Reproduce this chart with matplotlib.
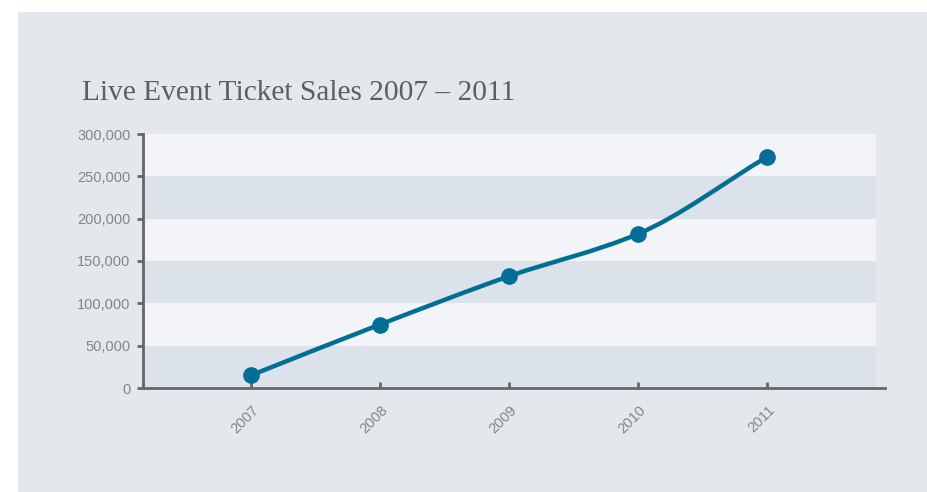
import numpy as np
import matplotlib
matplotlib.use('Agg')
from matplotlib import pyplot as plt
from matplotlib.patches import Rectangle, PathPatch
from matplotlib.path import Path
from matplotlib.ticker import FuncFormatter
import matplotlib.transforms as mtransforms

years = [2007, 2008, 2009, 2010, 2011]
tickets = [15000, 75000, 132000, 182000, 273000]
y_ticks = [0, 50000, 100000, 150000, 200000, 250000, 300000]

line_color = '#006e95'
axis_color = '#666666'
label_color = '#858585'

fig = plt.figure(figsize=(9.27, 4.92), dpi=100, facecolor='white')
fig.patches.append(Rectangle((18 / 927, 0), 1 - 18 / 927, 1 - 12 / 492,
                             transform=fig.transFigure, facecolor='#e4e7ec',
                             edgecolor='none', zorder=-10))

ax = fig.add_axes([143 / 927, 104 / 492, 742 / 927, 254 / 492])
ax.set_facecolor('none')
ax.set_xlim(2007 - 108 / 129, 2011 + 118 / 129)
ax.set_ylim(0, 300000)

# alternating bands
band_end = (876 - 143) / (885 - 143)
for i, lo in enumerate(y_ticks[:-1]):
    color = '#dbe2ea' if i % 2 == 0 else '#f2f4f8'
    ax.axhspan(lo, y_ticks[i + 1], xmin=0, xmax=band_end, color=color,
               lw=0, zorder=0)

# smooth monotone curve through the points
x = np.array(years, dtype=float)
y = np.array(tickets, dtype=float)
h = np.diff(x)
d = np.diff(y) / h
m = np.zeros_like(y)
m[0], m[-1] = d[0], d[-1]
for i in range(1, len(y) - 1):
    if d[i - 1] * d[i] > 0:
        m[i] = 2 / (1 / d[i - 1] + 1 / d[i])
verts = [(x[0], y[0])]
codes = [Path.MOVETO]
for i in range(len(x) - 1):
    verts += [(x[i] + h[i] / 3, y[i] + m[i] * h[i] / 3),
              (x[i + 1] - h[i] / 3, y[i + 1] - m[i + 1] * h[i] / 3),
              (x[i + 1], y[i + 1])]
    codes += [Path.CURVE4] * 3
ax.add_patch(PathPatch(Path(verts, codes), facecolor='none',
                       edgecolor=line_color, lw=3.2, capstyle='round',
                       zorder=3))
ax.plot(years, tickets, 'o', color=line_color, markersize=11, zorder=4)

for side in ['top', 'right']:
    ax.spines[side].set_visible(False)
for side in ['left', 'bottom']:
    ax.spines[side].set_color(axis_color)
    ax.spines[side].set_linewidth(2)

ax.set_yticks(y_ticks)
ax.yaxis.set_major_formatter(FuncFormatter(lambda v, p: f'{int(v):,}'))
ax.tick_params(axis='y', direction='out', length=4, width=2,
               color=axis_color, pad=5, labelsize=10.5,
               labelcolor=label_color)
ax.set_xticks(years)
ax.set_xticklabels([str(v) for v in years], rotation=45, ha='right')
ax.tick_params(axis='x', direction='in', length=4, width=2,
               color=axis_color, pad=11, labelsize=10.5,
               labelcolor=label_color)
offset = mtransforms.ScaledTranslation(11 / 100, 0, fig.dpi_scale_trans)
for lbl in ax.get_xticklabels():
    lbl.set_transform(lbl.get_transform() + offset)
for lbl in ax.get_xticklabels() + ax.get_yticklabels():
    lbl.set_fontfamily('Liberation Sans')

fig.text(82 / 927, 1 - 100 / 492, 'Live Event Ticket Sales 2007 \u2013 2011',
         fontsize=21.2, family='Liberation Serif', color='#5e5e5e',
         va='baseline', ha='left')

fig.savefig('out.png', dpi=100, facecolor='white')
